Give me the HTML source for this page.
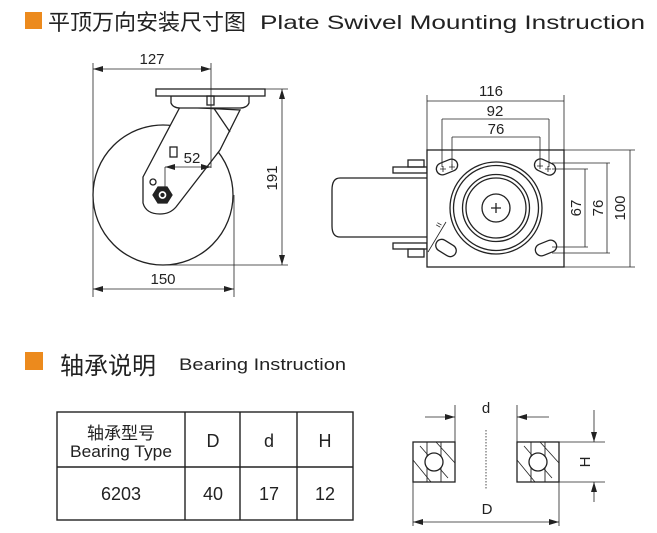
<!DOCTYPE html>
<html><head><meta charset="utf-8"><style>
body{margin:0;background:#fff;width:657px;height:533px;overflow:hidden}
svg{display:block}
text{font-family:"Liberation Sans","Noto Sans CJK SC",sans-serif;fill:#222}
</style></head><body>
<svg width="657" height="533" viewBox="0 0 657 533" xmlns="http://www.w3.org/2000/svg">
<defs>
<marker id="a" viewBox="0 0 10 6" refX="10" refY="3" markerWidth="10" markerHeight="6" orient="auto-start-reverse" markerUnits="userSpaceOnUse"><path d="M0,0L10,3L0,6z" fill="#222"/></marker>
</defs>
<rect x="25" y="12" width="17" height="17" fill="#ec8a1d"/>
<text x="48" y="30" font-size="22" font-family="'Noto Sans CJK SC',sans-serif">平顶万向安装尺寸图</text>
<text x="260" y="29" font-size="19.5" textLength="385" lengthAdjust="spacingAndGlyphs">Plate Swivel Mounting Instruction</text>

<g stroke="#222" fill="none" stroke-width="1.3">
<circle cx="163" cy="195" r="70" fill="#fff"/>
<path d="M180,107 L143,177 L143,203 Q146,214 160,214 Q170,214 176,207 L220,150 L240,110 Z" fill="#fff"/>
<line x1="213" y1="107" x2="230" y2="132"/>
<path d="M171,96 L249,96 L249,103 Q247,108 240,108 L180,108 Q173,108 171,103 Z" fill="#fff"/>
<rect x="156" y="89" width="109" height="7" fill="#fff"/>
<rect x="207" y="96" width="7" height="9"/>
<rect x="170" y="147" width="7" height="10"/>
<circle cx="153" cy="182" r="3"/>
<polygon points="153,195 158,187 167,187 172,195 167,203 158,203" fill="#222"/>
<circle cx="162.5" cy="195" r="4.5" fill="#fff"/>
<circle cx="162.5" cy="195" r="1.5" fill="#222"/>
<line x1="93" y1="63" x2="93" y2="297" stroke-width="0.8"/>
<line x1="211" y1="63" x2="211" y2="168" stroke-width="0.8"/>
<line x1="93" y1="69" x2="211" y2="69" marker-start="url(#a)" marker-end="url(#a)" stroke-width="0.8"/>
<line x1="165" y1="167" x2="211" y2="167" marker-start="url(#a)" marker-end="url(#a)" stroke-width="0.8"/>
<line x1="165" y1="167" x2="165" y2="190" stroke-width="0.8"/>
<line x1="265" y1="89" x2="288" y2="89" stroke-width="0.8"/>
<line x1="163" y1="265" x2="288" y2="265" stroke-width="0.8"/>
<line x1="282" y1="89" x2="282" y2="265" marker-start="url(#a)" marker-end="url(#a)" stroke-width="0.8"/>
<line x1="234" y1="195" x2="234" y2="297" stroke-width="0.8"/>
<line x1="93" y1="289" x2="234" y2="289" marker-start="url(#a)" marker-end="url(#a)" stroke-width="0.8"/>

<path d="M427,178 L340,178 Q332,178 332,190 L332,226 Q332,237 340,237 L427,237" fill="#fff"/>
<rect x="393" y="167" width="34" height="6"/>
<rect x="393" y="243" width="34" height="6"/>
<rect x="408" y="160" width="16" height="7"/>
<rect x="408" y="249" width="16" height="8"/>
<rect x="427" y="150" width="137" height="117" fill="#fff"/>
<circle cx="496" cy="208" r="46"/>
<circle cx="496" cy="208" r="42.5"/>
<circle cx="496" cy="208" r="33.5"/>
<circle cx="496" cy="208" r="30"/>
<circle cx="496" cy="208" r="14"/>
<path d="M491,208h10M496,203v10"/>
<rect x="436" y="161" width="22" height="12" rx="6" transform="rotate(-22 447 167)"/>
<rect x="534" y="161" width="22" height="12" rx="6" transform="rotate(25 545 167)"/>
<rect x="535" y="242" width="22" height="12" rx="6" transform="rotate(-22 546 248)"/>
<rect x="435" y="242" width="22" height="12" rx="6" transform="rotate(32 446 248)"/>
<path d="M440,169h6M443,166v6M449,167h6M452,164v6M537,166h6M540,163v6M545,169h6M548,166v6" stroke-width="0.8"/>
<line x1="428" y1="252" x2="446" y2="222" stroke-width="0.8"/>
<text x="436" y="228" font-size="9" stroke="none" transform="rotate(-60 438 225)">ıı</text>
<line x1="427" y1="95" x2="427" y2="150" stroke-width="0.8"/>
<line x1="564" y1="95" x2="564" y2="150" stroke-width="0.8"/>
<line x1="427" y1="101" x2="564" y2="101" stroke-width="0.8"/>
<line x1="442" y1="119" x2="549" y2="119" stroke-width="0.8"/>
<line x1="442" y1="119" x2="442" y2="167" stroke-width="0.8"/>
<line x1="549" y1="119" x2="549" y2="167" stroke-width="0.8"/>
<line x1="452" y1="137" x2="540" y2="137" stroke-width="0.8"/>
<line x1="452" y1="137" x2="452" y2="167" stroke-width="0.8"/>
<line x1="540" y1="137" x2="540" y2="167" stroke-width="0.8"/>
<line x1="564" y1="150" x2="635" y2="150" stroke-width="0.8"/>
<line x1="564" y1="267" x2="635" y2="267" stroke-width="0.8"/>
<line x1="630" y1="150" x2="630" y2="267" stroke-width="0.8"/>
<line x1="552" y1="163" x2="610" y2="163" stroke-width="0.8"/>
<line x1="552" y1="253" x2="610" y2="253" stroke-width="0.8"/>
<line x1="607" y1="163" x2="607" y2="253" stroke-width="0.8"/>
<line x1="552" y1="169" x2="588" y2="169" stroke-width="0.8"/>
<line x1="552" y1="247" x2="588" y2="247" stroke-width="0.8"/>
<line x1="585" y1="169" x2="585" y2="247" stroke-width="0.8"/>

<rect x="413" y="442" width="42" height="40"/>
<rect x="517" y="442" width="42" height="40"/>
<path d="M427,442v40M441,442v40M531,442v40M545,442v40" stroke-width="0.9"/>
<path d="M420,446L448,478M436,442L455,463M413,460L431,482M524,446L552,478M540,442L559,463M517,460L535,482" stroke-width="0.8"/>
<circle cx="434" cy="462" r="9" fill="#fff"/>
<circle cx="538" cy="462" r="9" fill="#fff"/>
<line x1="486" y1="430" x2="486" y2="490" stroke-dasharray="1.5,1.5" stroke-width="0.8"/>
<line x1="455" y1="405" x2="455" y2="442" stroke-width="0.8"/>
<line x1="517" y1="405" x2="517" y2="442" stroke-width="0.8"/>
<line x1="425" y1="417" x2="455" y2="417" marker-end="url(#a)" stroke-width="0.8"/>
<line x1="549" y1="417" x2="517" y2="417" marker-end="url(#a)" stroke-width="0.8"/>
<line x1="559" y1="442" x2="605" y2="442" stroke-width="0.8"/>
<line x1="559" y1="482" x2="605" y2="482" stroke-width="0.8"/>
<line x1="594" y1="410" x2="594" y2="442" marker-end="url(#a)" stroke-width="0.8"/>
<line x1="594" y1="502" x2="594" y2="482" marker-end="url(#a)" stroke-width="0.8"/>
<line x1="413" y1="482" x2="413" y2="526" stroke-width="0.8"/>
<line x1="559" y1="482" x2="559" y2="526" stroke-width="0.8"/>
<line x1="413" y1="522" x2="559" y2="522" marker-start="url(#a)" marker-end="url(#a)" stroke-width="0.8"/>

<rect x="57" y="412" width="296" height="108" stroke-width="1.4"/>
<path d="M57,467H353M185,412V520M240,412V520M297,412V520" stroke-width="1.4"/>
</g>

<g font-size="15" text-anchor="middle">
<text x="152" y="64">127</text>
<text x="192" y="163">52</text>
<text x="163" y="284">150</text>
<text x="277" y="178" transform="rotate(-90 277 178)">191</text>
<text x="491" y="96">116</text>
<text x="495" y="116">92</text>
<text x="496" y="134">76</text>
<text x="581" y="208" transform="rotate(-90 581 208)">67</text>
<text x="603" y="208" transform="rotate(-90 603 208)">76</text>
<text x="625" y="208" transform="rotate(-90 625 208)">100</text>
<text x="486" y="413">d</text>
<text x="487" y="514">D</text>
<text x="590" y="462" transform="rotate(-90 590 462)">H</text>
</g>

<rect x="25" y="352" width="18" height="18" fill="#ec8a1d"/>
<text x="60" y="374" font-size="24" font-family="'Noto Sans CJK SC',sans-serif">轴承说明</text>
<text x="179" y="370" font-size="17" textLength="167" lengthAdjust="spacingAndGlyphs">Bearing Instruction</text>

<g font-size="18" text-anchor="middle">
<text x="121" y="439" font-family="'Noto Sans CJK SC',sans-serif" font-size="17">轴承型号</text>
<text x="121" y="457" font-size="16.5" textLength="102" lengthAdjust="spacingAndGlyphs">Bearing Type</text>
<text x="213" y="447">D</text>
<text x="269" y="447">d</text>
<text x="325" y="447">H</text>
<text x="121" y="500">6203</text>
<text x="213" y="500">40</text>
<text x="269" y="500">17</text>
<text x="325" y="500">12</text>
</g>
</svg>
</body></html>
